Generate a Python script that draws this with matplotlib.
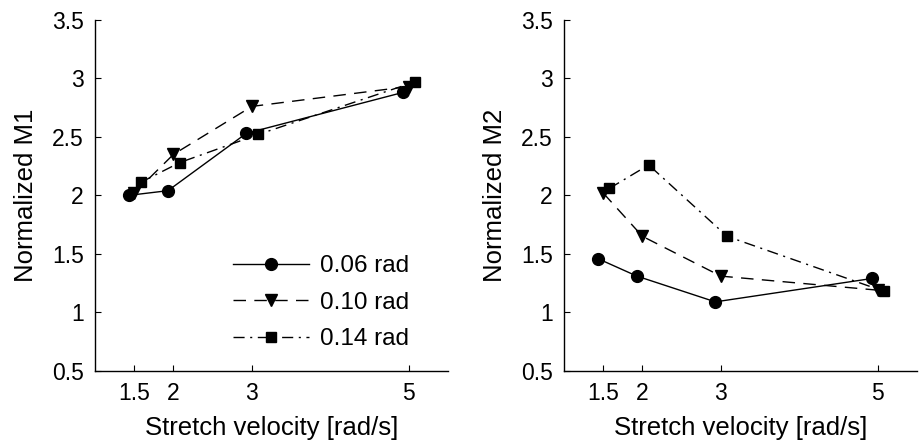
import matplotlib
matplotlib.use("Agg")
import matplotlib.pyplot as plt

plt.rcParams['font.family'] = ['Liberation Sans', 'DejaVu Sans']

# stretch velocities (rad/s); series are drawn slightly offset in x
vel_006 = [1.43, 1.93, 2.93, 4.93]
vel_010 = [1.50, 2.00, 3.00, 5.00]
vel_014 = [1.58, 2.08, 3.08, 5.08]

labels = ['0.06 rad', '0.10 rad', '0.14 rad']

m1_006 = [2.00, 2.04, 2.53, 2.88]
m1_010 = [2.02, 2.35, 2.76, 2.93]
m1_014 = [2.11, 2.28, 2.52, 2.97]

m2_006 = [1.46, 1.31, 1.09, 1.29]
m2_010 = [2.02, 1.65, 1.31, 1.19]
m2_014 = [2.06, 2.26, 1.65, 1.18]

xticks = [1.5, 2, 3, 5]
yticks = [0.5, 1, 1.5, 2, 2.5, 3, 3.5]

TICK_FS = 16.5
LABEL_FS = 18.5
LEG_FS = 17.5

fig = plt.figure(figsize=(9.19, 4.40), dpi=100)
ax1 = fig.add_axes([0.1034, 0.157, 0.384, 0.798])
ax2 = fig.add_axes([0.6137, 0.157, 0.384, 0.798])


def draw(ax, a, b, c, ylabel, legend=False):
    ax.plot(vel_006, a, color='k', lw=1.0, ls='-', marker='o', ms=8.5,
            label=labels[0])
    ax.plot(vel_010, b, color='k', lw=1.0, ls=(0, (9, 6)), marker='v', ms=8.5,
            label=labels[1])
    ax.plot(vel_014, c, color='k', lw=1.0, ls=(0, (8, 4, 1.5, 4)), marker='s',
            ms=6.5, label=labels[2])
    ax.set_xlim(1.0, 5.5)
    ax.set_ylim(0.5, 3.5)
    ax.set_xticks(xticks)
    ax.set_xticklabels(['1.5', '2', '3', '5'])
    ax.set_yticks(yticks)
    ax.set_yticklabels(['0.5', '1', '1.5', '2', '2.5', '3', '3.5'])
    ax.tick_params(direction='in', length=4, width=0.8, labelsize=TICK_FS, pad=8)
    for s in ['top', 'right']:
        ax.spines[s].set_visible(False)
    for s in ['left', 'bottom']:
        ax.spines[s].set_linewidth(1.0)
    ax.set_xlabel('Stretch velocity [rad/s]', fontsize=LABEL_FS, labelpad=8)
    ax.set_ylabel(ylabel, fontsize=LABEL_FS, labelpad=10)
    if legend:
        ax.legend(loc='upper left', bbox_to_anchor=(0.33, 0.392), frameon=False,
                  fontsize=LEG_FS, handlelength=3.1, handletextpad=0.45,
                  labelspacing=0.6)


draw(ax1, m1_006, m1_010, m1_014, 'Normalized M1', legend=True)
draw(ax2, m2_006, m2_010, m2_014, 'Normalized M2')

fig.savefig('out.png', dpi=100)
